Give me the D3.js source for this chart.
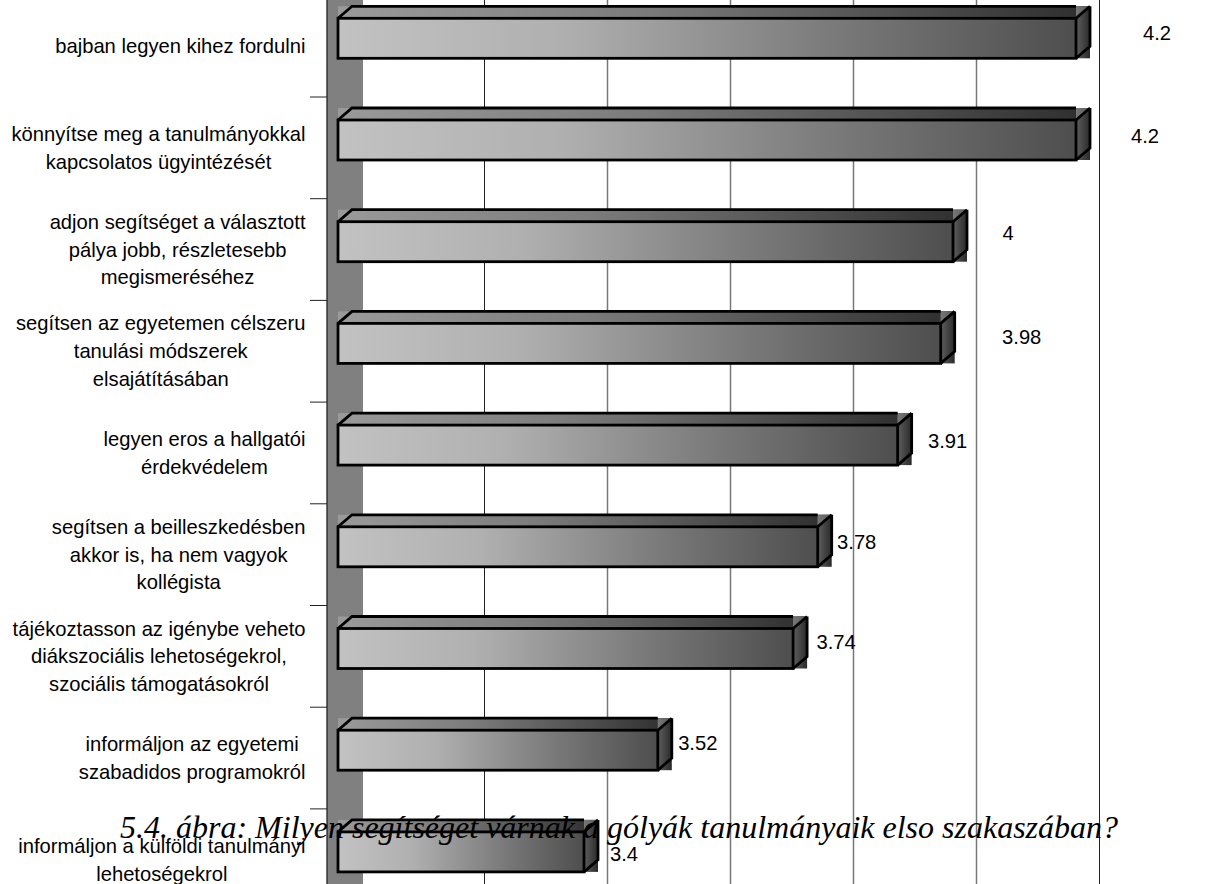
<!DOCTYPE html>
<html>
<head>
<meta charset="utf-8">
<script src="https://cdn.jsdelivr.net/npm/d3@7"></script>
<style>
  html, body { margin: 0; padding: 0; background: #fff; }
  svg { display: block; }
  text { fill: #000; }
</style>
</head>
<body>
<svg id="chart" width="1213" height="884"></svg>
<script>
const categories = [
  ['bajban legyen kihez fordulni'],
  ['könnyítse meg a tanulmányokkal', 'kapcsolatos ügyintézését'],
  ['adjon segítséget a választott', 'pálya jobb, részletesebb', 'megismeréséhez'],
  ['segítsen az egyetemen célszeru', 'tanulási módszerek', 'elsajátításában'],
  ['legyen eros a hallgatói', 'érdekvédelem'],
  ['segítsen a beilleszkedésben', 'akkor is, ha nem vagyok', 'kollégista'],
  ['tájékoztasson az igénybe veheto', 'diákszociális lehetoségekrol,', 'szociális támogatásokról'],
  ['informáljon az egyetemi', 'szabadidos programokról'],
  ['informáljon a külföldi tanulmányi', 'lehetoségekrol']
];
const values = [4.2, 4.2, 4, 3.98, 3.91, 3.78, 3.74, 3.52, 3.4];
const valueText = ['4.2', '4.2', '4', '3.98', '3.91', '3.78', '3.74', '3.52', '3.4'];
const gridTicks = [3.2, 3.4, 3.6, 3.8, 4, 4.2];
// the value labels were dragged by hand in the original, so they sit at uneven offsets
const labelDx = [81, 69, 55, 81, 50, 39, 43, 40, 40];
const labelDy = [-6, -5, -10, -7, -5, -6, -7, -8, 1];
const caption = '5.4. ábra: Milyen segítséget várnak a gólyák tanulmányaik elso szakaszában?';

const svg = d3.select('#chart');
const height = 884;
const labelFont = '"Liberation Sans", Arial, sans-serif';
const labelSize = '20.2px';

const x = d3.scaleLinear().domain([3, 4.2]).range([338, 1076]);
const y = d3.scaleBand().domain(d3.range(values.length)).range([-4.7, 910.6]);

const depthX = 14, depthY = 12;   // bar extrusion
const wallX = 327, wallDepth = 36;

const defs = svg.append('defs');
function gradient(id, stops) {
  const g = defs.append('linearGradient').attr('id', id);
  stops.forEach(s => g.append('stop').attr('offset', s[0]).attr('stop-color', s[1]));
}
gradient('front', [[0, '#c2c2c2'], [0.3, '#b0b0b0'], [0.7, '#767676'], [1, '#4e4e4e']]);
gradient('top', [[0, '#9a9a9a'], [0.4, '#7c7c7c'], [1, '#2e2e2e']]);
gradient('side', [[0, '#5e5e5e'], [1, '#2a2a2a']]);
gradient('corner', [[0, '#777'], [1, '#5a5a5a']]);

// side wall
svg.append('rect')
  .attr('x', wallX).attr('y', 0)
  .attr('width', wallDepth).attr('height', height)
  .attr('fill', '#808080');

// gridlines on the back wall, first and last print darker and thinner
svg.append('g').selectAll('line')
  .data(gridTicks)
  .enter()
  .append('line')
  .attr('x1', d => x(d) + 23.5)
  .attr('x2', d => x(d) + 23.5)
  .attr('y1', 0)
  .attr('y2', height)
  .attr('stroke', (d, i) => (i === 0 || i === gridTicks.length - 1) ? '#222' : '#777')
  .attr('stroke-width', (d, i) => (i === 0 || i === gridTicks.length - 1) ? 1 : 1.5);

// axis line and category ticks
svg.append('line')
  .attr('x1', wallX).attr('x2', wallX)
  .attr('y1', 0).attr('y2', height)
  .attr('stroke', '#222').attr('stroke-width', 1.3);

svg.append('g').selectAll('line')
  .data(d3.range(1, values.length))
  .enter()
  .append('line')
  .attr('x1', wallX - 17)
  .attr('x2', wallX)
  .attr('y1', i => y(i))
  .attr('y2', i => y(i))
  .attr('stroke', '#222');

// bars
const bars = svg.append('g').selectAll('g')
  .data(values)
  .enter()
  .append('g')
  .attr('transform', (d, i) => `translate(0,${y(i) + 23})`);

const barH = 40, x0 = x(3);

bars.append('rect')
  .attr('x', x0).attr('y', -depthY)
  .attr('width', d => x(d) - x0 + depthX).attr('height', depthY)
  .attr('fill', 'url(#top)');

bars.append('rect')
  .attr('x', d => x(d)).attr('y', -depthY)
  .attr('width', depthX).attr('height', barH + depthY)
  .attr('fill', 'url(#side)');

// pale wedge at the far top corner of the bar
bars.append('path')
  .attr('fill', 'url(#corner)')
  .attr('d', d => `M${x(d)},${-depthY}H${x(d) + depthX}L${x(d)},0Z`);

bars.append('rect')
  .attr('x', x0).attr('y', 0)
  .attr('width', d => x(d) - x0).attr('height', barH)
  .attr('fill', 'url(#front)')
  .attr('stroke', '#000').attr('stroke-width', 2.8);

bars.append('path')
  .attr('fill', 'none')
  .attr('stroke', '#000')
  .attr('stroke-width', 2.8)
  .attr('d', d => {
    const p = d3.path();
    p.moveTo(x0, 0);
    p.lineTo(x0 + depthX, -depthY);
    p.lineTo(x(d), -depthY);
    p.moveTo(x(d) + depthX, -depthY);
    p.lineTo(x(d) + depthX, barH - depthY);
    p.lineTo(x(d), barH);
    p.moveTo(x(d), 0);
    p.lineTo(x(d) + depthX, -depthY);
    return p.toString();
  });

// category labels, each block centred on its widest line
const labels = svg.append('g')
  .style('font-family', labelFont)
  .style('font-size', labelSize);

categories.forEach((lines, i) => {
  const cy = y(i) + y.bandwidth() / 2;
  const block = labels.append('g');
  const texts = block.selectAll('text')
    .data(lines)
    .enter()
    .append('text')
    .attr('text-anchor', 'middle')
    .attr('y', (d, k) => cy + (k - (lines.length - 1) / 2) * 27.8 + 7)
    .text(d => d);
  const w = d3.max(texts.nodes(), n => n.getComputedTextLength());
  texts.attr('x', 305.5 - w / 2);
});

// value labels
svg.append('g').selectAll('text')
  .data(values)
  .enter()
  .append('text')
  .attr('x', (d, i) => x(d) + labelDx[i])
  .attr('y', (d, i) => y(i) + y.bandwidth() / 2 + labelDy[i])
  .attr('text-anchor', 'middle')
  .style('font-family', labelFont)
  .style('font-size', labelSize)
  .text((d, i) => valueText[i]);

// figure caption, overprinted on the chart
svg.append('text')
  .attr('x', 120)
  .attr('y', 838)
  .style('font-family', '"Liberation Serif", "Times New Roman", serif')
  .style('font-style', 'italic')
  .style('font-size', '32px')
  .text(caption);
</script>
</body>
</html>
